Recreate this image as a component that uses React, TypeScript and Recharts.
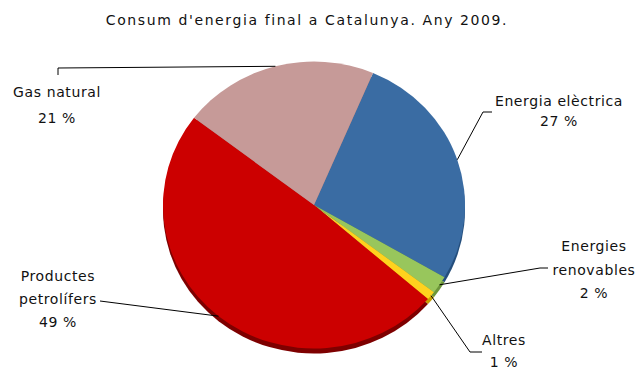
import React from 'react';
import { PieChart, Pie, Cell } from 'recharts';

const categories = ['Energia elèctrica', 'Energies renovables', 'Altres', 'Productes petrolífers', 'Gas natural'];
const values = [27, 2, 1, 49, 21];
const percentLabels = ['27 %', '2 %', '1 %', '49 %', '21 %'];
const nameLines = [['Energia elèctrica'], ['Energies', 'renovables'], ['Altres'], ['Productes', 'petrolífers'], ['Gas natural']];
const colors = ['#3A6CA3', '#98C65C', '#FFD21E', '#CC0000', '#C69A98'];
const shadowColors = ['#244E7C', '#6C963A', '#C8A000', '#7E0000', '#96706E'];
const title = "Consum d'energia final a Catalunya. Any 2009.";

const data = categories.map((name, i) => ({ name, value: values[i], pct: percentLabels[i], lines: nameLines[i] }));

const W = 640;
const H = 370;
const CX = 314;
const CY = 205;
const R = 151;
const SY = 0.95;
const FONT = '"DejaVu Sans", Verdana, sans-serif';

// label layout relative to pie centre: elbow points and text anchor
const layout: Record<string, { pts: [number, number][]; tx: number; ty: number; gap: number }> = {
  'Gas natural': { pts: [[-256, -137], [-256, -130]], tx: -257, ty: -113, gap: 26 },
  'Energia elèctrica': { pts: [[169, -93], [178, -93]], tx: 245, ty: -104, gap: 20 },
  'Energies renovables': { pts: [[226, 63], [234, 63]], tx: 280, ty: 41, gap: 23.5 },
  'Altres': { pts: [[156, 147], [168, 147]], tx: 190, ty: 135, gap: 22 },
  'Productes petrolífers': { pts: [[-214, 96]], tx: -256, ty: 71, gap: 23 },
};

const RAD = Math.PI / 180;

const renderLabel = (props: any) => {
  const { cx, cy, midAngle, outerRadius, payload, name } = props;
  const key = (payload && payload.name) || name;
  const l = layout[key];
  if (!l) return null;
  const sx = cx + outerRadius * Math.cos(-midAngle * RAD);
  const sy = cy + outerRadius * SY * Math.sin(-midAngle * RAD);
  const pts = [[sx, sy], ...l.pts.map(([x, y]) => [cx + x, cy + y])];
  const lines: string[] = [...payload.lines, payload.pct];
  return (
    <g>
      <polyline points={pts.map((p) => p.join(',')).join(' ')} fill="none" stroke="#000" strokeWidth={1} />
      {lines.map((t, i) => (
        <text
          key={i}
          x={cx + l.tx}
          y={cy + l.ty + i * l.gap}
          textAnchor="middle"
          dominantBaseline="central"
          fontFamily={FONT}
          fontSize={14}
          letterSpacing={0.6}
          fill="#111"
        >
          {t}
        </text>
      ))}
    </g>
  );
};

export default function App() {
  return (
    <div style={{ position: 'absolute', left: 0, top: 0, width: W, height: H, background: '#fff' }}>
      <style>{`.ellip .recharts-pie-sector{transform-origin:${CX}px ${CY}px;transform:scaleY(${SY});}
.shadowpie .recharts-pie-sector{transform-origin:${CX}px ${CY + 5}px;transform:scaleY(${SY});}`}</style>
      <div
        style={{
          position: 'absolute',
          left: -13,
          top: 12,
          width: W,
          textAlign: 'center',
          fontFamily: FONT,
          fontSize: 14,
          letterSpacing: 1.6,
          color: '#111',
        }}
      >
        {title}
      </div>
      <PieChart width={W} height={H} margin={{ top: 0, right: 0, bottom: 0, left: 0 }}>
        <Pie
          className="shadowpie"
          data={data}
          dataKey="value"
          cx={CX}
          cy={CY + 5}
          outerRadius={R}
          startAngle={67}
          endAngle={-293}
          stroke="none"
          isAnimationActive={false}
          label={false}
          labelLine={false}
        >
          {data.map((d, i) => (
            <Cell key={d.name} fill={shadowColors[i]} />
          ))}
        </Pie>
        <Pie
          className="ellip"
          data={data}
          dataKey="value"
          cx={CX}
          cy={CY}
          outerRadius={R}
          startAngle={67}
          endAngle={-293}
          stroke="none"
          isAnimationActive={false}
          label={renderLabel}
          labelLine={false}
        >
          {data.map((d, i) => (
            <Cell key={d.name} fill={colors[i]} />
          ))}
        </Pie>
      </PieChart>
    </div>
  );
}
